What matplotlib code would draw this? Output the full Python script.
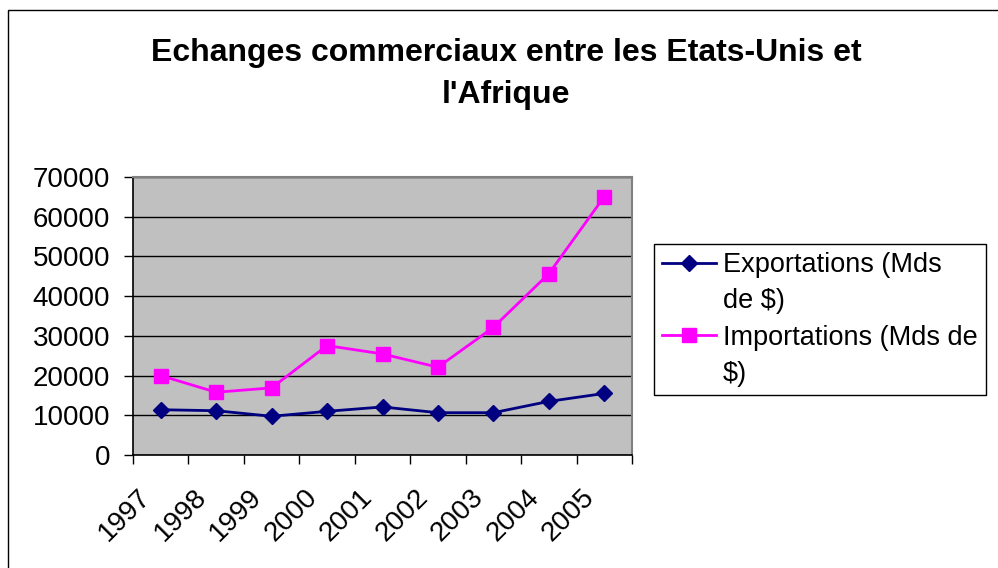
import numpy as np
import matplotlib.pyplot as plt
from matplotlib.lines import Line2D
from matplotlib.patches import Rectangle
from matplotlib.transforms import ScaledTranslation

plt.rcParams['font.family'] = ['Liberation Sans', 'DejaVu Sans']

# donnees
annees = ['1997', '1998', '1999', '2000', '2001', '2002', '2003', '2004', '2005']
exportations = [11400, 11150, 9750, 11000, 12100, 10650, 10650, 13500, 15500]
importations = [20000, 15800, 16900, 27550, 25450, 22100, 32150, 45650, 65050]
yticks = [0, 10000, 20000, 30000, 40000, 50000, 60000, 70000]

fig = plt.figure(figsize=(9.98, 5.68), dpi=100)
ax = fig.add_axes([133/998, 1-455/568, 499/998, 278/568])

x = np.arange(len(annees))

# cadre autour du graphique complet
fig.patches.append(Rectangle((8/998, -0.2), 2, 1.2 - 10/568, transform=fig.transFigure,
                             fill=False, edgecolor='black', linewidth=1.0))

ax.set_facecolor('#C0C0C0')
ax.set_ylim(0, 70000)
ax.set_xlim(-0.5, len(annees) - 0.5)
ax.set_yticks(yticks)
ax.set_yticklabels([str(v) for v in yticks])
ax.yaxis.grid(True, color='black', linewidth=1.0)
ax.set_axisbelow(True)

# ticks aux limites des categories, etiquettes au centre
ax.set_xticks(np.arange(-0.5, len(annees), 1.0))
ax.set_xticklabels([])
ax.set_xticks(x, minor=True)
ax.set_xticklabels(annees, minor=True, rotation=45, ha='right', va='top',
                   rotation_mode='anchor', fontsize=20)
ax.tick_params(axis='x', which='minor', length=0, pad=14)
ax.tick_params(axis='x', which='major', length=6.5, width=1, color='black')
ax.tick_params(axis='y', length=6.5, width=1, labelsize=20, pad=10)

# decalage des annees vers la gauche / le bas
decal = ScaledTranslation(-23/100, -10/100, fig.dpi_scale_trans)
for lab in ax.get_xticklabels(minor=True):
    lab.set_transform(lab.get_transform() + decal)

for s in ['top', 'right']:
    ax.spines[s].set_color('#808080')
    ax.spines[s].set_linewidth(1.5)
for s in ['left', 'bottom']:
    ax.spines[s].set_color('black')
    ax.spines[s].set_linewidth(1.2)

l1, = ax.plot(x, exportations, color='#000080', linewidth=2, marker='D', markersize=8,
              clip_on=False, zorder=3)
l2, = ax.plot(x, importations, color='#FF00FF', linewidth=2, marker='s', markersize=10,
              clip_on=False, zorder=3)

vide = Line2D([], [], color='none')
leg = fig.legend([l1, vide, l2, vide],
                 ['Exportations (Mds', 'de $)', 'Importations (Mds de', '$)'],
                 loc='upper left', bbox_to_anchor=(654/998, 1-244/568), borderaxespad=0,
                 fontsize=19.5, fancybox=False, edgecolor='black', framealpha=1,
                 handlelength=2.0, handletextpad=0.25, labelspacing=0.38, borderpad=0.3)
leg.get_frame().set_linewidth(1.0)

fig.text(506/998, 1-53/568, 'Echanges commerciaux entre les Etats-Unis et',
         ha='center', va='center', fontsize=23, fontweight='bold')
fig.text(506/998, 1-95/568, "l'Afrique",
         ha='center', va='center', fontsize=23, fontweight='bold')

fig.savefig('out.png', dpi=100)
